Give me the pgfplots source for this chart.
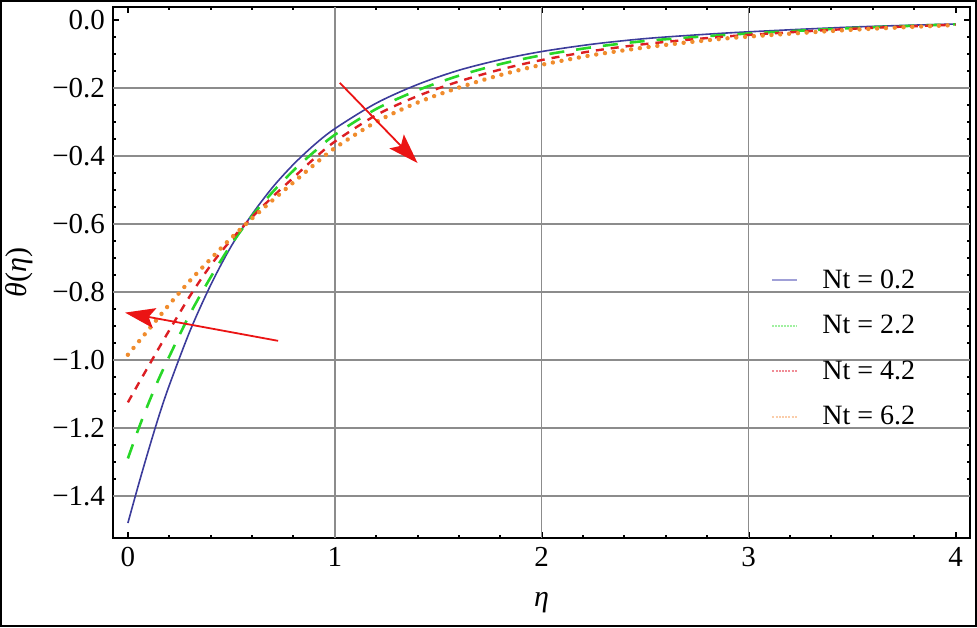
\documentclass[border=0pt]{standalone}
\usepackage{fontspec}
\setmainfont{Liberation Serif}
\usepackage{pgfplots}
\pgfplotsset{compat=1.18}
\usetikzlibrary{arrows.meta}
\definecolor{cblue}{RGB}{60,60,155}
\definecolor{cgreen}{RGB}{40,215,40}
\definecolor{cred}{RGB}{220,30,35}
\definecolor{corange}{RGB}{240,140,45}
\definecolor{lblue}{RGB}{160,160,215}
\definecolor{lgreen}{RGB}{160,240,160}
\definecolor{lred}{RGB}{240,140,150}
\definecolor{lorange}{RGB}{250,205,170}
\definecolor{arrowred}{RGB}{235,20,20}
\begin{document}
\begin{tikzpicture}
\useasboundingbox (-56.5pt,-44.5pt) rectangle (432pt,269pt);
\begin{axis}[
  at={(0,0)}, anchor=south west,
  scale only axis, width=428.5pt, height=265.5pt,
  xmin=-0.072, xmax=4.07, ymin=-1.524, ymax=0.038,
  axis line style={line width=1.2pt, black},
  /pgf/number format/assume math mode=true,
  xtick={0,1,2,3,4}, xticklabels={0,1,2,3,4},
  ytick={-1.4,-1.2,-1.0,-0.8,-0.6,-0.4,-0.2,0},
  yticklabels={−1.4,−1.2,−1.0,−0.8,−0.6,−0.4,−0.2,0.0},
  minor x tick num=4, minor y tick num=3,
  tick align=inside,
  major tick length=3pt, minor tick length=1.6pt,
  every tick/.style={black, line width=1pt},
  tick label style={font=\fontsize{14.5}{16}\selectfont},
  xticklabel style={yshift=-1pt},
  yticklabel style={xshift=-0.5pt},
  extra x ticks={1,2,3}, extra x tick labels={},
  extra y ticks={-1.4,-1.2,-1.0,-0.8,-0.6,-0.4,-0.2}, extra y tick labels={},
  extra tick style={grid=major, major tick length=0pt},
  major grid style={gray!90, line width=0.7pt},
  every axis y label/.style={at={(axis description cs:-0.1097,0.5)}, rotate=90, anchor=center, font=\fontsize{15}{17}\selectfont},
  every axis x label/.style={at={(axis description cs:0.5,-0.1224)}, anchor=center, font=\fontsize{15}{17}\selectfont},
  xlabel={\itshape η},
  ylabel={\itshape θ\upshape(\itshape η\upshape)},
  legend style={draw=none, fill=none, at={(axis description cs:0.768,0.514)}, anchor=north west,
    font=\fontsize{14}{16}\selectfont, row sep=8pt, inner sep=0pt},
  legend cell align=left,
  legend image code/.code={\draw[#1] (0pt,0pt) -- (12.5pt,0pt);},
  /tikz/every odd column/.append style={column sep=10pt},
]
\addlegendimage{lblue, line width=0.9pt}
\addlegendentry{Nt = 0.2}
\addlegendimage{lgreen, line width=0.9pt, dash pattern=on 1pt off 0.5pt}
\addlegendentry{Nt = 2.2}
\addlegendimage{lred, line width=0.9pt, dash pattern=on 1pt off 0.6pt}
\addlegendentry{Nt = 4.2}
\addlegendimage{lorange, line width=0.9pt, dash pattern=on 1pt off 0.6pt}
\addlegendentry{Nt = 6.2}

\addplot[cblue, line width=0.8pt, smooth, forget plot] coordinates {
(0,-1.48) (0.05,-1.37) (0.1,-1.265) (0.15,-1.165) (0.2,-1.075) (0.3,-0.915) (0.4,-0.78) (0.5,-0.665)
(0.6,-0.572) (0.7,-0.492) (0.8,-0.425) (0.9,-0.368) (1.0,-0.32) (1.2,-0.245) (1.4,-0.19) (1.6,-0.148)
(1.8,-0.117) (2.0,-0.093) (2.25,-0.071) (2.5,-0.055) (2.75,-0.044) (3.0,-0.035) (3.5,-0.021) (4.0,-0.012)};
\addplot[cgreen, line width=1.3pt, smooth, dash pattern=on 7.5pt off 6pt, forget plot] coordinates {
(0,-1.29) (0.05,-1.205) (0.1,-1.127) (0.15,-1.055) (0.2,-0.99) (0.3,-0.865) (0.4,-0.757) (0.5,-0.66)
(0.6,-0.577) (0.7,-0.506) (0.8,-0.443) (0.9,-0.388) (1.0,-0.338) (1.2,-0.262) (1.4,-0.207) (1.6,-0.164)
(1.8,-0.13) (2.0,-0.104) (2.25,-0.08) (2.5,-0.062) (2.75,-0.05) (3.0,-0.04) (3.5,-0.024) (4.0,-0.013)};
\addplot[cred, line width=1.2pt, smooth, dash pattern=on 4pt off 3.5pt, forget plot] coordinates {
(0,-1.125) (0.05,-1.071) (0.1,-1.018) (0.15,-0.965) (0.2,-0.913) (0.3,-0.812) (0.4,-0.722) (0.5,-0.646)
(0.6,-0.58) (0.7,-0.52) (0.8,-0.464) (0.9,-0.408) (1.0,-0.358) (1.2,-0.28) (1.4,-0.224) (1.6,-0.181)
(1.8,-0.146) (2.0,-0.118) (2.25,-0.091) (2.5,-0.071) (2.75,-0.056) (3.0,-0.044) (3.5,-0.026) (4.0,-0.014)};
\addplot[corange, line width=2.2pt, smooth, line cap=round, dash pattern=on 0.01pt off 4.4pt, forget plot] coordinates {
(0,-0.985) (0.05,-0.948) (0.1,-0.911) (0.15,-0.874) (0.2,-0.837) (0.3,-0.767) (0.4,-0.703) (0.5,-0.641)
(0.6,-0.584) (0.7,-0.53) (0.8,-0.478) (0.9,-0.426) (1.0,-0.377) (1.2,-0.30) (1.4,-0.243) (1.6,-0.199)
(1.8,-0.162) (2.0,-0.132) (2.25,-0.103) (2.5,-0.081) (2.75,-0.063) (3.0,-0.049) (3.5,-0.029) (4.0,-0.015)};

\draw[arrowred, line width=0.9pt, -{Stealth[length=15pt, width=10pt, inset=3pt]}] (axis cs:1.024,-0.185) -- (axis cs:1.40,-0.421);
\draw[arrowred, line width=0.9pt, -{Stealth[length=15pt, width=10pt, inset=3pt]}] (axis cs:0.726,-0.944) -- (axis cs:-0.014,-0.861);
\end{axis}
\draw[line width=1pt] (-55.75pt,-43.75pt) rectangle (431.25pt,268.25pt);
\end{tikzpicture}
\end{document}
